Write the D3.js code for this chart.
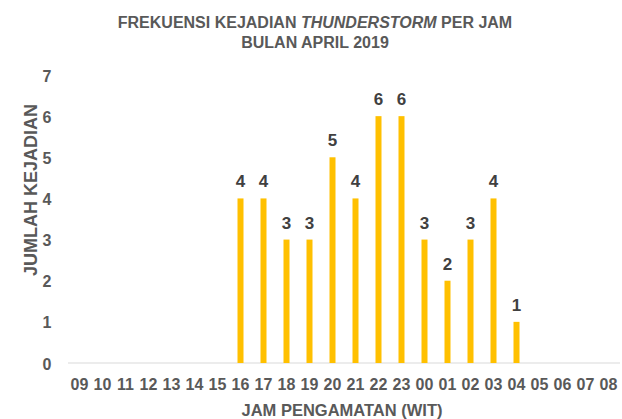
<!DOCTYPE html>
<html>
<head>
<meta charset="utf-8">
<script src="https://cdn.jsdelivr.net/npm/d3@7"></script>
<style>
  body { margin: 0; background: #fff; }
  svg { display: block; font-family: "Liberation Sans Narrow", "Arial Narrow", "Liberation Sans", Arial, sans-serif; font-weight: bold; }
</style>
</head>
<body>
<div id="chart"></div>
<script>
// data
const hours = ['09','10','11','12','13','14','15','16','17','18','19','20','21','22','23','00','01','02','03','04','05','06','07','08'];
const counts = [0,0,0,0,0,0,0,4,4,3,3,5,4,6,6,3,2,3,4,1,0,0,0,0];
const yTicks = [0,1,2,3,4,5,6,7];

const width = 622, height = 419;
const margin = { left: 68, right: 2, top: 75, bottom: 56 };

const svg = d3.select('#chart').append('svg')
  .attr('width', width)
  .attr('height', height);

const x = d3.scaleBand()
  .domain(hours)
  .range([margin.left, width - margin.right]);

const y = d3.scaleLinear()
  .domain([0, 7])
  .range([height - margin.bottom, margin.top]);

// title
const title = svg.append('text')
  .attr('text-anchor', 'middle')
  .attr('fill', '#595959')
  .style('font-size', '16px');
const t1 = title.append('tspan').attr('x', 315).attr('y', 28);
t1.append('tspan').text('FREKUENSI KEJADIAN ');
t1.append('tspan').style('font-style', 'italic').text('THUNDERSTORM');
t1.append('tspan').text(' PER JAM');
title.append('tspan').attr('x', 315).attr('y', 48).text('BULAN APRIL 2019');

// baseline
svg.append('line')
  .attr('x1', x.range()[0]).attr('x2', x.range()[1])
  .attr('y1', y(0)).attr('y2', y(0))
  .attr('stroke', '#d9d9d9');

// y tick labels
svg.append('g').selectAll('text')
  .data(yTicks)
  .join('text')
  .attr('x', 47)
  .attr('y', d => y(d) + 1)
  .attr('dy', '0.35em')
  .attr('text-anchor', 'middle')
  .attr('fill', '#595959')
  .style('font-size', '16px')
  .text(d => d);

// x tick labels
svg.append('g').selectAll('text')
  .data(hours)
  .join('text')
  .attr('x', d => x(d) + x.bandwidth() / 2)
  .attr('y', y(0) + 27)
  .attr('text-anchor', 'middle')
  .attr('fill', '#595959')
  .style('font-size', '16px')
  .text(d => d);

// axis titles
svg.append('text')
  .attr('transform', `translate(37,190) rotate(-90)`)
  .attr('text-anchor', 'middle')
  .attr('fill', '#595959')
  .style('font-size', '18px')
  .text('JUMLAH KEJADIAN');

svg.append('text')
  .attr('x', 342)
  .attr('y', 416)
  .attr('text-anchor', 'middle')
  .attr('fill', '#595959')
  .style('font-size', '16.5px')
  .text('JAM PENGAMATAN (WIT)');

// bars
const barW = 6;
const nonZero = hours.map((h, i) => ({ h, v: counts[i] })).filter(d => d.v > 0);

svg.append('g').selectAll('rect')
  .data(nonZero)
  .join('rect')
  .attr('x', d => x(d.h) + x.bandwidth() / 2 - barW / 2)
  .attr('y', d => y(d.v))
  .attr('width', barW)
  .attr('height', d => y(0) - y(d.v))
  .attr('fill', '#ffc000');

// value labels
svg.append('g').selectAll('text')
  .data(nonZero)
  .join('text')
  .attr('x', d => x(d.h) + x.bandwidth() / 2)
  .attr('y', d => y(d.v) - 11)
  .attr('text-anchor', 'middle')
  .attr('fill', '#404040')
  .style('font-size', '17px')
  .text(d => d.v);
</script>
</body>
</html>
